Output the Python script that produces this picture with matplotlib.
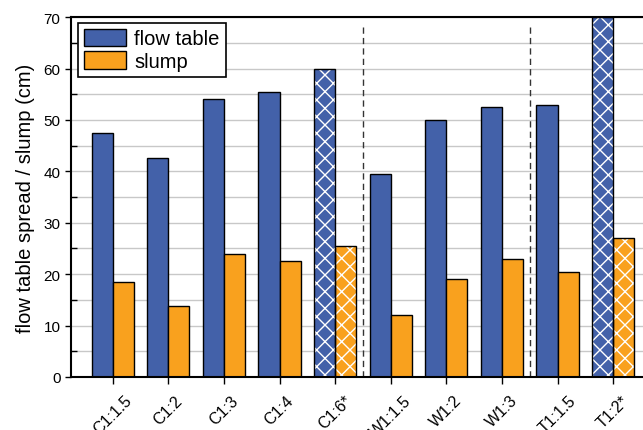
import numpy as np
import matplotlib.pyplot as plt
from matplotlib.ticker import MultipleLocator

plt.rcParams['font.family'] = ['Liberation Sans', 'DejaVu Sans']

# data
mixes = ['C1:1.5', 'C1:2', 'C1:3', 'C1:4', 'C1:6*', 'W1:1.5', 'W1:2', 'W1:3', 'T1:1.5', 'T1:2*']
flow = [47.5, 42.5, 54.0, 55.5, 60.0, 39.5, 50.0, 52.5, 53.0, 70.0]
slump = [18.5, 13.8, 24.0, 22.5, 25.5, 12.0, 19.0, 23.0, 20.5, 27.0]
hatched = [False, False, False, False, True, False, False, False, False, True]
group_breaks = [4.5, 7.5]

blue = '#4361a9'
orange = '#f9a11e'
w = 0.38

fig = plt.figure(figsize=(6.43, 4.31), dpi=100)
ax = fig.add_axes([0.1104, 0.123, 0.908, 0.835])

x = np.arange(len(mixes))
for xi, f, s, h in zip(x, flow, slump, hatched):
    for xx, val, col in ((xi - w / 2, f, blue), (xi + w / 2, s, orange)):
        if h:
            ax.bar(xx, val, w, color=col, edgecolor='white', hatch='xx', linewidth=0, zorder=2)
            ax.bar(xx, val, w, facecolor='none', edgecolor='black', linewidth=1, zorder=3)
        else:
            ax.bar(xx, val, w, color=col, edgecolor='black', linewidth=1, zorder=2)

for b in group_breaks:
    ax.axvline(b, ymin=0, ymax=0.983, color='#333333', linestyle=(0, (4.5, 3)), linewidth=1, zorder=1)

# legend proxies
ax.bar(np.nan, np.nan, color=blue, edgecolor='black', linewidth=1, label='flow table')
ax.bar(np.nan, np.nan, color=orange, edgecolor='black', linewidth=1, label='slump')
leg = ax.legend(loc='upper left', bbox_to_anchor=(0.012, 0.985), fontsize=14.5, frameon=True,
                fancybox=False, edgecolor='black', framealpha=1, handlelength=2.1,
                handleheight=0.95, handletextpad=0.4, borderpad=0.3, labelspacing=0.15,
                borderaxespad=0)
leg.get_frame().set_linewidth(1.2)

ax.set_xlim(-0.75, 9.75)
ax.set_ylim(0, 70)
ax.yaxis.set_major_locator(MultipleLocator(10))
ax.yaxis.set_minor_locator(MultipleLocator(5))
ax.grid(axis='y', which='both', color='#c8c8c8', linewidth=1, zorder=0)
ax.set_axisbelow(True)

ax.set_xticks(x)
ax.set_xticklabels(mixes, rotation=45, ha='center', va='top', fontsize=11.5)
ax.tick_params(axis='x', direction='out', length=5, width=1, pad=6)
ax.tick_params(axis='y', which='major', direction='out', length=4, width=1, labelsize=11)
ax.tick_params(axis='y', which='minor', direction='in', length=4, width=1)
ax.set_ylabel('flow table spread / slump (cm)', fontsize=14.5, labelpad=6)

for side in ('left', 'bottom', 'top'):
    ax.spines[side].set_linewidth(1.5)
ax.spines['right'].set_visible(False)

fig.savefig('out.png', dpi=100)
